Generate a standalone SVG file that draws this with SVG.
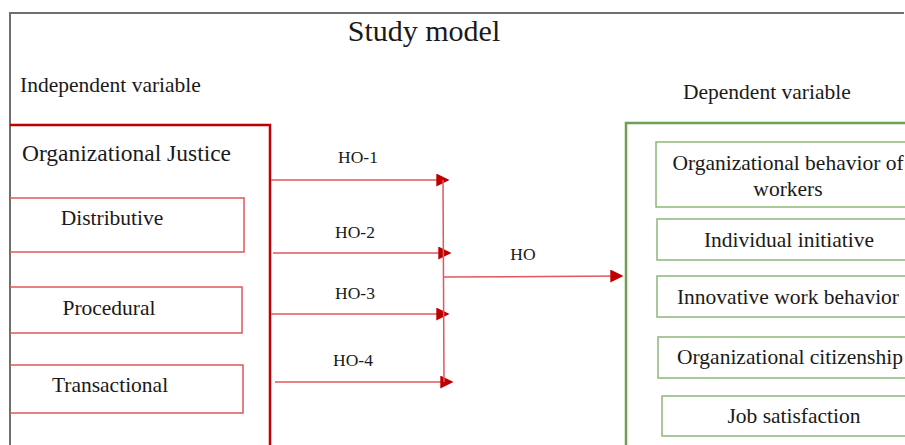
<svg xmlns="http://www.w3.org/2000/svg" width="905" height="445" viewBox="0 0 905 445">
<defs>
<style>
text{font-family:"Liberation Serif","Times New Roman",serif;fill:#1a1a1a}
.t{font-size:21.5px}
.c{text-anchor:middle}
.lbl{font-size:17.5px;text-anchor:middle}
.sub{fill:none;stroke:#e0575c;stroke-width:1.5}
.gsub{fill:none;stroke:#8cb87a;stroke-width:1.5}
.conn{stroke:#e0575c;stroke-width:1.5;fill:none}
</style>
<marker id="ah" viewBox="0 0 10 10" refX="9" refY="5" markerWidth="13" markerHeight="13" markerUnits="userSpaceOnUse" orient="auto">
<path d="M0,0 L10,5 L0,10 z" fill="#c00000"/>
</marker>
</defs>
<rect width="905" height="445" fill="#fff"/>
<g id="frame">
<path d="M10,445 V13 H904" fill="none" stroke="#6e6e6e" stroke-width="2"/>
</g>
<g id="title"><text x="424" y="41" class="c" style="font-size:30px">Study model</text></g>
<g id="indep-label"><text x="20" y="92" class="t">Independent variable</text></g>
<g id="dep-label"><text x="683" y="99" class="t">Dependent variable</text></g>

<g id="org-justice">
<path d="M10,125 H270 V445" fill="none" stroke="#c00000" stroke-width="2.5"/>
<text x="22" y="161" style="font-size:23.5px">Organizational Justice</text>
</g>
<g id="distributive">
<path d="M10,198 H244 V252 H10" class="sub"/>
<text x="112" y="225" class="t c">Distributive</text>
</g>
<g id="procedural">
<path d="M10,287 H242 V333 H10" class="sub"/>
<text x="109" y="315" class="t c">Procedural</text>
</g>
<g id="transactional">
<path d="M10,365 H243 V413 H10" class="sub"/>
<text x="110" y="392" class="t c">Transactional</text>
</g>

<g id="connectors">
<line x1="271" y1="180" x2="448" y2="180" class="conn" marker-end="url(#ah)"/>
<line x1="273" y1="253" x2="450" y2="253" class="conn" marker-end="url(#ah)"/>
<line x1="271" y1="314" x2="448" y2="314" class="conn" marker-end="url(#ah)"/>
<line x1="275" y1="382" x2="452" y2="382" class="conn" marker-end="url(#ah)"/>
<line x1="443" y1="180" x2="444" y2="382" class="conn"/>
<line x1="443" y1="277" x2="622" y2="276" class="conn" marker-end="url(#ah)"/>
<text x="358" y="163" class="lbl">HO-1</text>
<text x="355" y="238" class="lbl">HO-2</text>
<text x="355" y="299" class="lbl">HO-3</text>
<text x="353" y="366" class="lbl">HO-4</text>
<text x="523" y="260" class="lbl">HO</text>
</g>

<g id="outcomes">
<path d="M626,445 V123 H905" fill="none" stroke="#6f9f57" stroke-width="2.5"/>
</g>
<g id="org-behavior">
<path d="M905,142 H656 V207 H905" class="gsub"/>
<text x="788" y="170" class="t c">Organizational behavior of</text>
<text x="788" y="196" class="t c">workers</text>
</g>
<g id="individual-initiative">
<path d="M905,219 H657 V260 H905" class="gsub"/>
<text x="789" y="247" class="t c">Individual initiative</text>
</g>
<g id="innovative">
<path d="M905,276 H657 V317 H905" class="gsub"/>
<text x="788" y="304" class="t c">Innovative work behavior</text>
</g>
<g id="citizenship">
<path d="M905,337 H658 V378 H905" class="gsub"/>
<text x="790" y="364" class="t c">Organizational citizenship</text>
</g>
<g id="job-satisfaction">
<path d="M905,396 H662 V436 H905" class="gsub"/>
<text x="794" y="423" class="t c">Job satisfaction</text>
</g>
</svg>
